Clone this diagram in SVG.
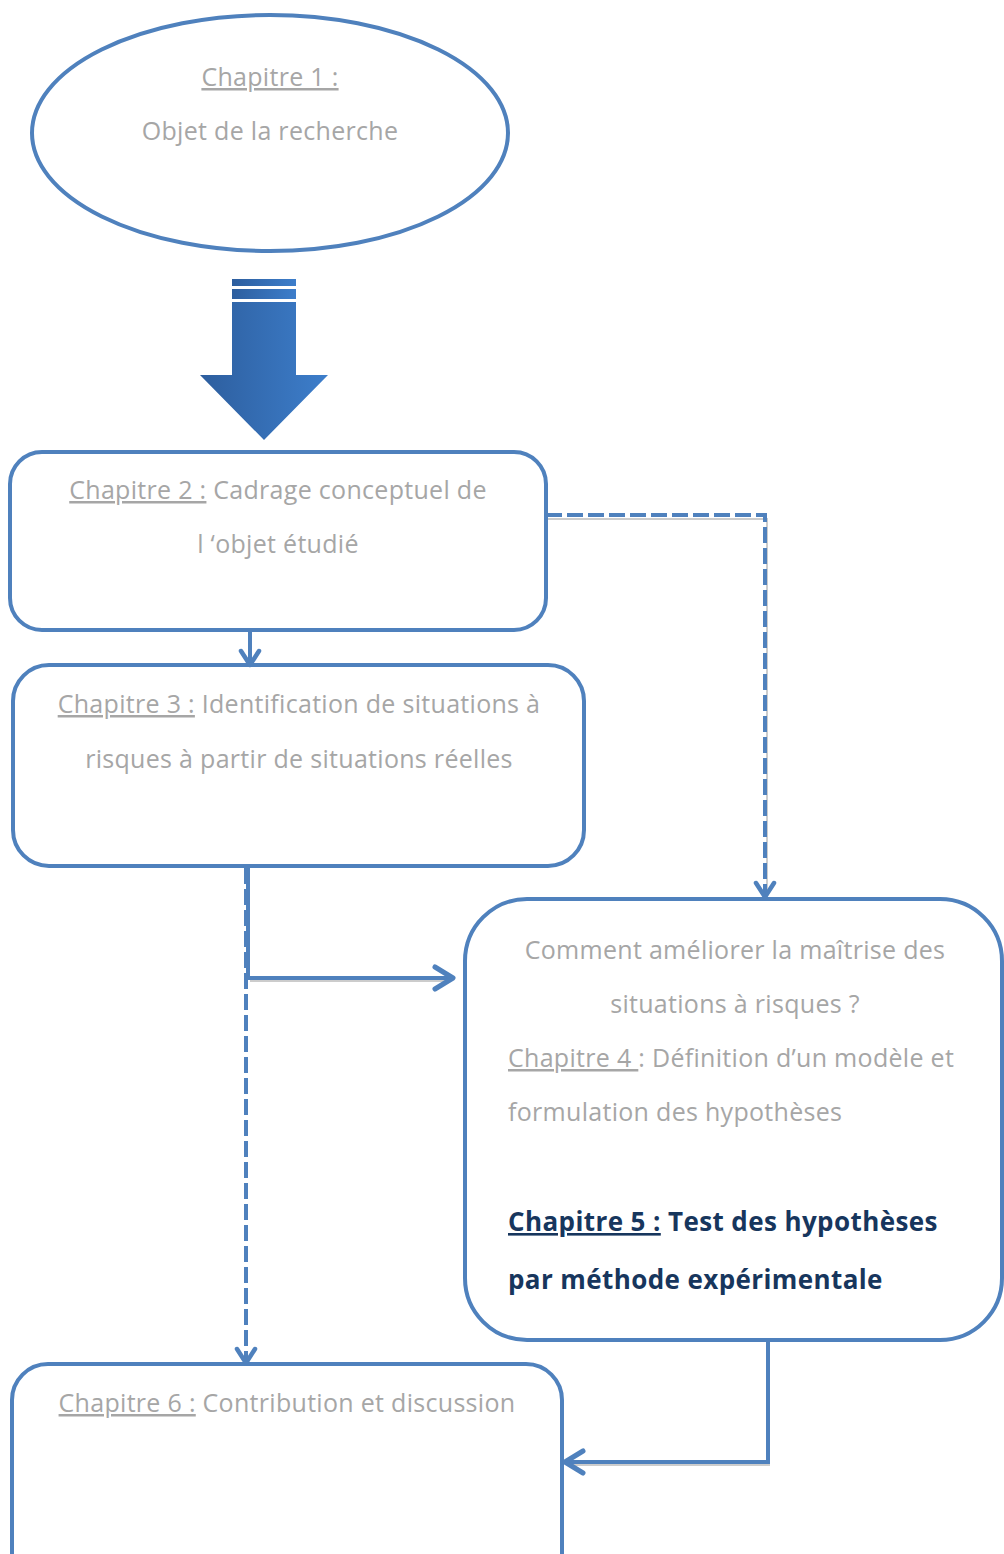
<svg xmlns="http://www.w3.org/2000/svg" width="1004" height="1554" viewBox="0 0 1004 1554">
<defs>
<linearGradient id="ag" x1="0" y1="0" x2="1" y2="0">
<stop offset="0" stop-color="#2D5E9E"/>
<stop offset="1" stop-color="#3D7ECB"/>
</linearGradient>
<marker id="ah" viewBox="0 0 24 24" refX="17" refY="12" markerWidth="24" markerHeight="24" markerUnits="userSpaceOnUse" orient="auto">
<path d="M4 3 L18 12 L4 21" fill="none" stroke="#4F81BD" stroke-width="4.5" stroke-linecap="round" stroke-linejoin="round"/>
</marker>
<marker id="ahb" viewBox="0 0 30 30" refX="22" refY="15" markerWidth="30" markerHeight="30" markerUnits="userSpaceOnUse" orient="auto">
<path d="M5 4 L23 15 L5 26" fill="none" stroke="#4F81BD" stroke-width="5" stroke-linecap="round" stroke-linejoin="round"/>
</marker>
</defs>
<style>
.node{fill:#FFFFFF;stroke:#4F81BD;stroke-width:4}
.t{font-family:"Open Sans","Liberation Sans",sans-serif;font-size:25px;letter-spacing:0.3px;fill:#A6A6A6}
.c{text-anchor:middle}
.u{text-decoration:underline}
.b{font-weight:bold;fill:#17365D;font-size:26px;letter-spacing:0.4px}
.ln{fill:none;stroke:#4F81BD;stroke-width:4}
.dl{fill:none;stroke:#4F81BD;stroke-width:4;stroke-dasharray:16 5}
.sh{fill:none;stroke:#CCCCCC;stroke-width:2}
</style>
<rect width="1004" height="1554" fill="#FFFFFF"/>
<g id="node-ch1">
<ellipse class="node" cx="270" cy="133" rx="238" ry="118"/>
<text class="t c" x="270" y="86"><tspan class="u">Chapitre 1 :</tspan></text>
<text class="t c" x="270" y="140">Objet de la recherche</text>
</g>
<g id="big-arrow">
<rect x="232" y="279" width="64" height="7" fill="url(#ag)"/>
<rect x="232" y="289" width="64" height="10" fill="url(#ag)"/>
<path d="M232 302 H296 V375 H328 L264 440 L200 375 H232 Z" fill="url(#ag)"/>
</g>
<g id="node-ch2">
<rect class="node" x="10" y="452" width="536" height="178" rx="32"/>
<text class="t c" x="278" y="499"><tspan class="u">Chapitre 2 :</tspan> Cadrage conceptuel de</text>
<text class="t c" x="278" y="553">l ‘objet étudié</text>
</g>
<g id="node-ch3">
<rect class="node" x="13" y="665" width="571" height="201" rx="36"/>
<text class="t c" x="299" y="713"><tspan class="u">Chapitre 3 :</tspan> Identification de situations à</text>
<text class="t c" x="299" y="768">risques à partir de situations réelles</text>
</g>
<g id="node-ch4-5">
<rect class="node" x="465" y="899" width="537" height="441" rx="62"/>
<text class="t c" x="735" y="959">Comment améliorer la maîtrise des</text>
<text class="t c" x="735" y="1013">situations à risques ?</text>
<text class="t" x="508" y="1067"><tspan class="u">Chapitre 4 </tspan>: Définition d’un modèle et</text>
<text class="t" x="508" y="1121">formulation des hypothèses</text>
<text class="t b" x="508" y="1231"><tspan class="u">Chapitre 5 :</tspan> Test des hypothèses</text>
<text class="t b" x="508" y="1289">par méthode expérimentale</text>
</g>
<g id="node-ch6">
<rect class="node" x="12" y="1364" width="550" height="230" rx="36"/>
<text class="t c" x="287" y="1412"><tspan class="u">Chapitre 6 :</tspan> Contribution et discussion</text>
</g>
<g id="connectors">
<path class="sh" d="M548 519 H767 V893"/>
<path class="sh" d="M250 981 H450"/>
<path class="sh" d="M770 1465 H570"/>
<path class="ln" d="M250 632 V664" marker-end="url(#ah)"/>
<path class="dl" d="M546 515 H765 V896" marker-end="url(#ah)"/>
<path class="ln" d="M248 866 V978 H452" marker-end="url(#ahb)"/>
<path class="dl" d="M246 868 V1362" marker-end="url(#ah)"/>
<path class="ln" d="M768 1338 V1462 H566" marker-end="url(#ahb)"/>
</g>
</svg>
